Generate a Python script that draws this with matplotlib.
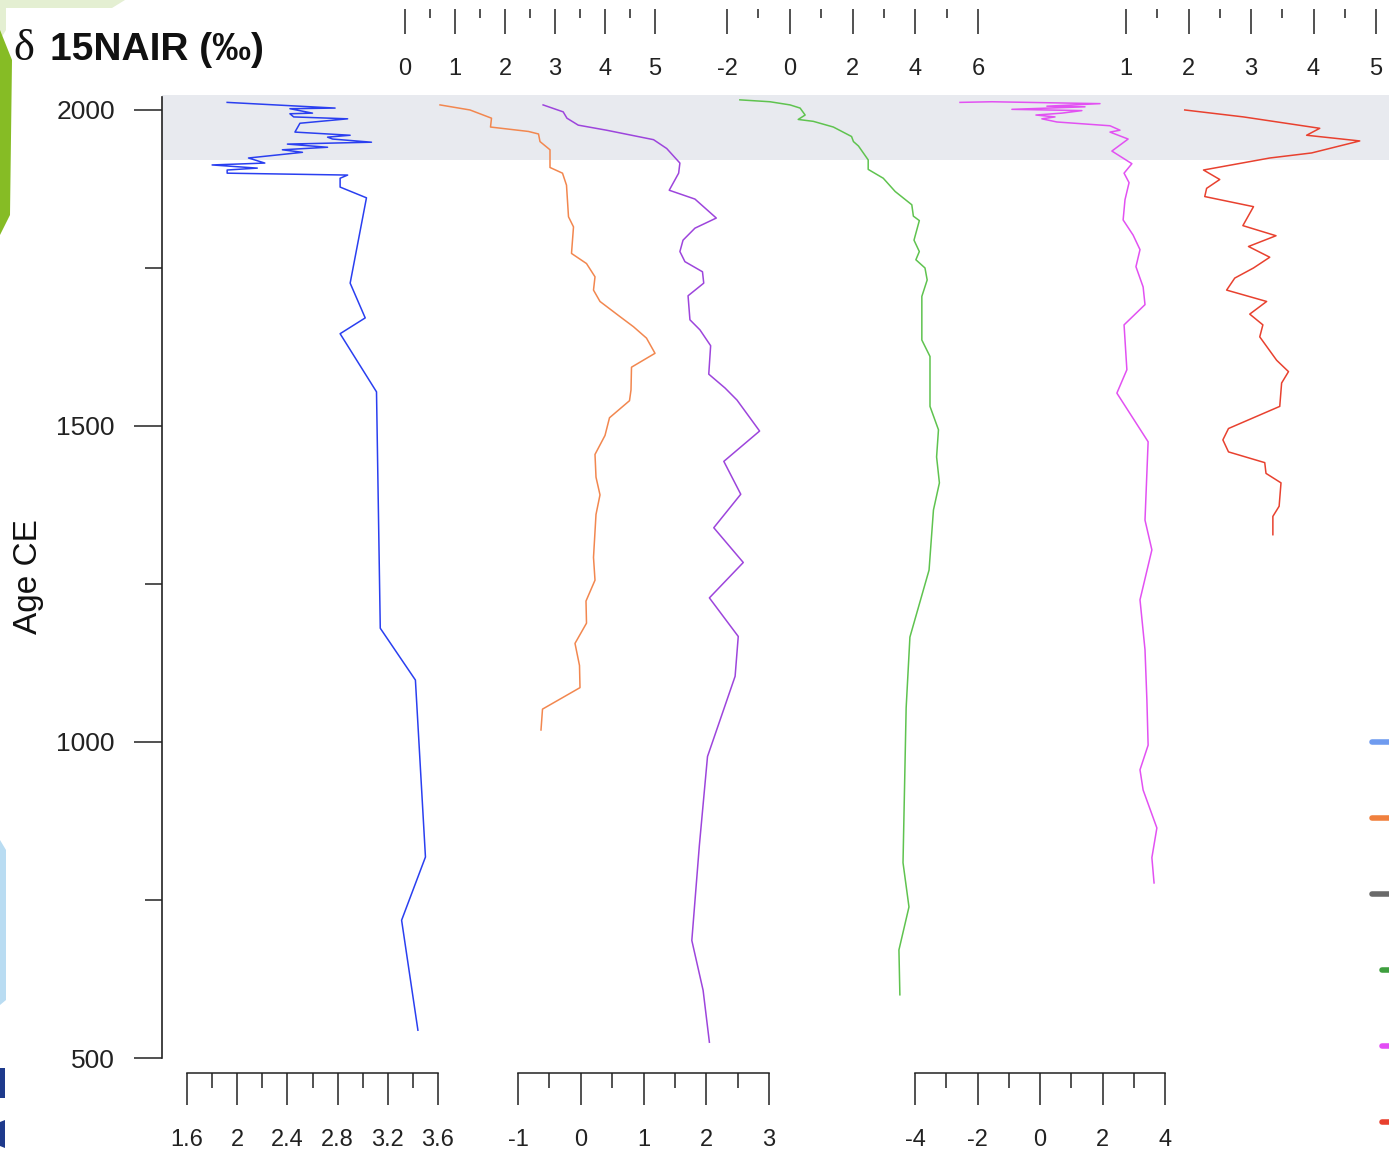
import matplotlib.pyplot as plt
from matplotlib.lines import Line2D
from matplotlib.ticker import MultipleLocator, FuncFormatter
from matplotlib.patches import Polygon

plt.rcParams['font.family'] = ['Liberation Sans', 'DejaVu Sans']
plt.rcParams['axes.unicode_minus'] = False

# ---- data (age CE, value) ----
blue_age = [2012, 2003, 2002, 1995, 1994, 1989, 1986, 1979, 1965, 1960, 1957, 1954, 1949,
            1946, 1941, 1937, 1933, 1924, 1916, 1913, 1908, 1905, 1900, 1897, 1892, 1878,
            1861, 1726, 1671, 1646, 1554, 1180, 1098, 818, 718, 544]
blue_val = [1.92, 2.78, 2.42, 2.60, 2.42, 2.45, 2.88, 2.50, 2.46, 2.90, 2.72, 2.76, 3.07,
            2.40, 2.72, 2.36, 2.52, 2.09, 2.22, 1.80, 2.16, 1.92, 1.92, 2.88, 2.82, 2.82,
            3.03, 2.90, 3.02, 2.82, 3.11, 3.14, 3.42, 3.50, 3.31, 3.44]

orange_age = [2008, 2000, 1987, 1973, 1966, 1962, 1950, 1937, 1909, 1900, 1881, 1831, 1815,
              1773, 1757, 1736, 1715, 1697, 1673, 1657, 1639, 1615, 1593, 1557, 1540, 1513,
              1485, 1455, 1419, 1391, 1360, 1292, 1256, 1223, 1188, 1156, 1121, 1086, 1052, 1019]
orange_val = [0.70, 1.30, 1.73, 1.71, 2.47, 2.67, 2.70, 2.90, 2.90, 3.15, 3.23, 3.27, 3.37,
              3.33, 3.63, 3.80, 3.77, 3.90, 4.30, 4.57, 4.83, 5.00, 4.53, 4.52, 4.49, 4.09,
              4.00, 3.80, 3.82, 3.90, 3.82, 3.77, 3.80, 3.62, 3.63, 3.40, 3.49, 3.50, 2.75, 2.72]

purple_age = [2008, 1997, 1987, 1976, 1968, 1953, 1939, 1916, 1900, 1873, 1859, 1829, 1813,
              1794, 1776, 1760, 1744, 1726, 1706, 1668, 1652, 1627, 1582, 1560, 1541, 1492,
              1444, 1392, 1339, 1284, 1228, 1167, 1104, 977, 836, 686, 607, 525]
purple_val = [-0.60, -0.28, -0.22, -0.04, 0.41, 1.16, 1.37, 1.58, 1.56, 1.41, 1.82, 2.16, 1.82,
              1.63, 1.58, 1.66, 1.94, 1.96, 1.71, 1.74, 1.90, 2.07, 2.04, 2.30, 2.49, 2.85,
              2.28, 2.55, 2.12, 2.59, 2.05, 2.51, 2.46, 2.02, 1.89, 1.77, 1.95, 2.05]

green_age = [2016, 2013, 2008, 2003, 1992, 1985, 1982, 1973, 1958, 1950, 1943, 1921, 1906,
             1892, 1871, 1850, 1832, 1825, 1794, 1776, 1763, 1750, 1731, 1705, 1636, 1610,
             1531, 1494, 1451, 1410, 1367, 1272, 1166, 1054, 809, 739, 671, 600]
green_val = [-1.59, -0.63, 0.01, 0.33, 0.49, 0.27, 0.75, 1.39, 1.97, 2.03, 2.19, 2.50, 2.50,
             2.98, 3.36, 3.89, 3.94, 4.13, 3.96, 4.13, 4.02, 4.31, 4.38, 4.21, 4.21, 4.47,
             4.47, 4.74, 4.68, 4.77, 4.58, 4.44, 3.83, 3.71, 3.61, 3.80, 3.48, 3.51]

magenta_age = [2012, 2013, 2010, 2006, 2005, 2001, 1999, 1995, 1992, 1989, 1986, 1981, 1975,
               1968, 1965, 1954, 1935, 1915, 1900, 1885, 1858, 1826, 1802, 1779, 1752, 1720,
               1692, 1660, 1589, 1552, 1475, 1351, 1304, 1225, 1146, 1067, 995, 956, 924,
               864, 817, 777]
magenta_val = [-2.56, -1.54, 1.92, 0.22, 1.44, -0.90, 1.34, 0.70, -0.13, 0.48, 0.06, 0.54, 2.24,
               2.56, 2.24, 2.82, 2.30, 2.94, 2.69, 2.85, 2.72, 2.66, 2.98, 3.20, 3.07, 3.30,
               3.36, 2.69, 2.78, 2.46, 3.46, 3.36, 3.58, 3.20, 3.36, 3.42, 3.46, 3.20, 3.30,
               3.74, 3.58, 3.65]

red_age = [2000, 1989, 1971, 1960, 1951, 1932, 1924, 1905, 1890, 1876, 1863, 1847, 1817,
           1801, 1784, 1767, 1750, 1734, 1715, 1697, 1677, 1660, 1641, 1604, 1586, 1568,
           1531, 1496, 1478, 1459, 1442, 1425, 1410, 1373, 1357, 1328]
red_val = [1.94, 2.88, 4.10, 3.89, 4.74, 3.97, 3.30, 2.24, 2.50, 2.29, 2.26, 3.04, 2.87,
           3.40, 2.96, 3.30, 3.04, 2.74, 2.61, 3.25, 2.98, 3.19, 3.14, 3.41, 3.60, 3.49,
           3.46, 2.64, 2.55, 2.64, 3.22, 3.24, 3.48, 3.45, 3.35, 3.35]

band = (1921, 2024)
legend_colors_a = ['#6f9bef', '#f0803e', '#6a6a6a']
legend_colors_b = ['#3f9f3f', '#e34cf5', '#e8402e']

# track: ages, values, colour, axis range, major, minor, left px, right px, side
tracks = [
    (blue_age, blue_val, '#2a3ff0', (1.6, 3.6), 0.4, 0.2, 187, 438, 'bottom'),
    (orange_age, orange_val, '#f2874f', (0, 5), 1, 0.5, 405, 655, 'top'),
    (purple_age, purple_val, '#9d45dc', (-1, 3), 1, 0.5, 518, 769, 'bottom'),
    (green_age, green_val, '#5fc34f', (-2, 6), 2, 1, 727, 978, 'top'),
    (magenta_age, magenta_val, '#e251f2', (-4, 4), 2, 1, 915, 1165, 'bottom'),
    (red_age, red_val, '#e8412f', (1, 5), 1, 0.5, 1126, 1376, 'top'),
]

W, H = 1389, 1150
Y_TOP, Y_BOT = 94.8, 1058.0
fig = plt.figure(figsize=(W / 100, H / 100), dpi=100)
fig.patch.set_facecolor('white')

# slide remnants round the screenshot
def px_poly(pts, col):
    fig.patches.append(Polygon([(x / W, 1 - y / H) for x, y in pts], closed=True,
                               transform=fig.transFigure, color=col, lw=0, zorder=0))

px_poly([(0, 0), (125, 0), (112, 8), (0, 8)], '#e4efd2')
px_poly([(0, 8), (6, 8), (6, 30), (0, 40)], '#e4efd2')
px_poly([(0, 30), (12, 60), (10, 215), (0, 235)], '#86bc25')
px_poly([(0, 840), (6, 850), (6, 1000), (0, 1005)], '#b9dcf2')
px_poly([(0, 1068), (5, 1068), (5, 1098), (0, 1098)], '#1e3a8c')
px_poly([(0, 1122), (5, 1120), (5, 1148), (0, 1146)], '#1e3a8c')

ax = fig.add_axes([162 / W, 1 - Y_BOT / H, (W - 162) / W, (Y_BOT - Y_TOP) / H])
ax.set_ylim(500, 2024)
ax.set_xlim(0, 1)
ax.axhspan(band[0], band[1], color='#e8eaef', lw=0, zorder=0)
for s in ['top', 'right', 'bottom']:
    ax.spines[s].set_visible(False)
ax.spines['left'].set_bounds(500, 2021)
ax.spines['left'].set_color('#222222')
ax.spines['left'].set_linewidth(1.2)
ax.set_xticks([])
ax.yaxis.set_major_locator(MultipleLocator(500))
ax.yaxis.set_minor_locator(MultipleLocator(250))
ax.tick_params(axis='y', which='major', length=20, width=1.1, color='#222222',
               labelsize=19, pad=14, labelcolor='#222222')
ax.tick_params(axis='y', which='minor', length=12, width=1.1, color='#222222')
ax.set_ylabel('Age CE', fontsize=24, labelpad=9, color='#111111')

fmt = FuncFormatter(lambda v, p: '%g' % round(v, 2))

for ages, vals, col, (lo, hi), major, minor, x0, x1, side in tracks:
    ta = fig.add_axes([x0 / W, 1 - Y_BOT / H, (x1 - x0) / W, (Y_BOT - Y_TOP) / H])
    ta.set_xlim(lo, hi)
    ta.set_ylim(500, 2024)
    ta.axis('off')
    ta.plot(vals, ages, color=col, lw=1.1, clip_on=False)

    if side == 'top':
        tk = fig.add_axes([x0 / W, 1 - 35 / H, (x1 - x0) / W, 26 / H])
        for s in tk.spines.values():
            s.set_visible(False)
        maj_len, min_len, lpad = 18, 6.5, 16.5
    else:
        tk = fig.add_axes([x0 / W, 1 - 1105 / H, (x1 - x0) / W, 32 / H])
        for s in ['left', 'right', 'bottom']:
            tk.spines[s].set_visible(False)
        tk.spines['top'].set_color('#222222')
        tk.spines['top'].set_linewidth(1.1)
        maj_len, min_len, lpad = 23, 11, 17
    tk.patch.set_visible(False)
    tk.set_xlim(lo, hi)
    tk.set_yticks([])
    tk.xaxis.set_major_locator(MultipleLocator(major))
    tk.xaxis.set_minor_locator(MultipleLocator(minor))
    tk.xaxis.set_major_formatter(fmt)
    tk.tick_params(axis='x', which='both', top=True, bottom=False, labeltop=False,
                   labelbottom=True, direction='in', width=1.1, color='#222222')
    tk.tick_params(axis='x', which='major', length=maj_len, labelsize=17, pad=lpad,
                   labelcolor='#222222')
    tk.tick_params(axis='x', which='minor', length=min_len)

# title
fig.text(13 / W, 1 - 49 / H, 'δ', fontsize=32, family=['Liberation Serif', 'DejaVu Serif'],
         va='center', ha='left', color='#111111')
fig.text(50 / W, 1 - 50 / H, '15NAIR (‰)', fontsize=28, fontweight='bold',
         va='center', ha='left', color='#111111')

# cut-off legend at the right edge
ha = [Line2D([], [], color=c, lw=4, solid_capstyle='round') for c in legend_colors_a]
hb = [Line2D([], [], color=c, lw=4, solid_capstyle='round') for c in legend_colors_b]
fig.legend(ha, [' '] * 3, loc='upper left', bbox_to_anchor=(1372 / W, 1 - 732 / H),
           frameon=False, fontsize=20, labelspacing=1.8, handlelength=2,
           borderpad=0, borderaxespad=0, handletextpad=0.3)
fig.legend(hb, [' '] * 3, loc='upper left', bbox_to_anchor=(1382 / W, 1 - 960 / H),
           frameon=False, fontsize=20, labelspacing=1.8, handlelength=2,
           borderpad=0, borderaxespad=0, handletextpad=0.3)

fig.savefig('out.png', dpi=100)
